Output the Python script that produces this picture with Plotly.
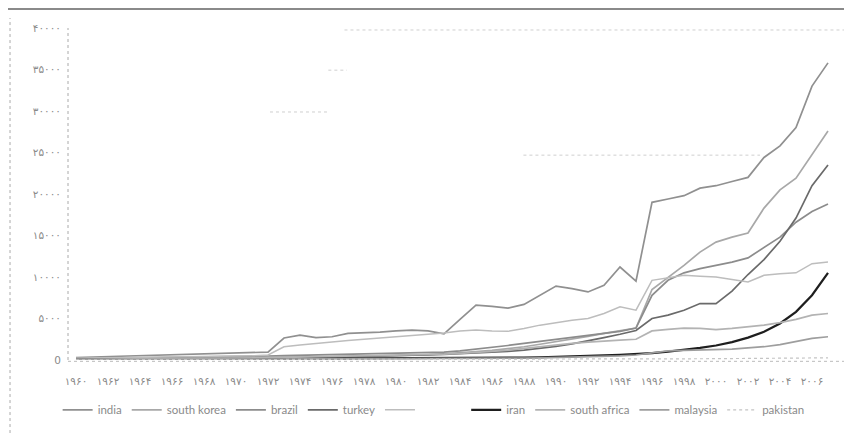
import plotly.graph_objects as go

years = list(range(1960, 2008))

india = [300, 350, 400, 450, 500, 550, 600, 650, 700, 750, 800, 850, 950, 2650, 3000, 2700,
         2800, 3200, 3250, 3350, 3500, 3600, 3500, 3150, 4900, 6600, 6450, 6250, 6700, 7800,
         8900, 8600, 8200, 9000, 11200, 9500, 19000, 19400, 19800, 20700, 21000, 21500, 22000,
         24400, 25800, 28000, 33000, 35800]
south_korea = [30, 35, 40, 50, 60, 70, 80, 100, 120, 140, 160, 180, 200, 230, 260, 290,
               320, 360, 400, 450, 500, 560, 650, 750, 850, 1000, 1150, 1350, 1600, 1900,
               2200, 2500, 2850, 3200, 3500, 3850, 8500, 9900, 11400, 13000, 14200, 14800, 15300,
               18300, 20500, 21900, 24800, 27600]
brazil = [150, 170, 190, 210, 230, 250, 270, 300, 330, 360, 400, 440, 480, 520, 560, 600,
          640, 680, 720, 760, 800, 830, 860, 950, 1100, 1300, 1500, 1750, 2000, 2250,
          2500, 2750, 3000, 3250, 3450, 3850, 7800, 9600, 10500, 11000, 11400, 11800, 12300,
          13500, 14800, 16600, 17900, 18800]
turkey = [80, 90, 100, 110, 120, 130, 140, 150, 170, 190, 210, 230, 250, 280, 310, 340,
          370, 400, 430, 470, 510, 560, 620, 680, 750, 830, 920, 1050, 1200, 1400,
          1650, 1950, 2300, 2700, 3100, 3550, 5000, 5400, 6000, 6800, 6800, 8300, 10300,
          12100, 14300, 17100, 21000, 23500]
unnamed = [200, 220, 250, 270, 300, 320, 350, 380, 400, 430, 460, 500, 600, 1600, 1800, 2000,
           2200, 2350, 2500, 2650, 2800, 3000, 3100, 3250, 3500, 3600, 3500, 3450, 3800, 4200,
           4500, 4800, 5000, 5600, 6400, 6000, 9600, 9900, 10200, 10100, 10000, 9700, 9400,
           10200, 10400, 10500, 11600, 11800]
iran = [50, 55, 60, 65, 70, 80, 90, 100, 110, 120, 130, 140, 150, 170, 190, 210,
        230, 220, 200, 180, 170, 180, 190, 200, 220, 240, 260, 280, 300, 330,
        370, 420, 480, 550, 630, 720, 830, 1000, 1200, 1450, 1750, 2150, 2700,
        3400, 4400, 5800, 7800, 10500]
south_africa = [80, 90, 100, 110, 120, 130, 140, 160, 180, 200, 220, 250, 280, 310, 340, 370,
                400, 430, 460, 500, 540, 580, 620, 700, 800, 900, 1050, 1200, 1400, 1650,
                1850, 2000, 2150, 2300, 2400, 2500, 3500, 3700, 3850, 3800, 3650, 3800, 4000,
                4200, 4500, 4900, 5400, 5600]
malaysia = [20, 25, 30, 35, 40, 45, 50, 55, 60, 65, 70, 75, 80, 90, 100, 110,
            120, 130, 140, 150, 160, 170, 180, 190, 200, 210, 220, 230, 240, 260,
            290, 330, 380, 430, 500, 600, 850, 1100, 1150, 1200, 1250, 1300, 1450,
            1600, 1850, 2200, 2600, 2800]
pakistan = [20, 22, 24, 26, 28, 30, 32, 34, 36, 38, 40, 42, 44, 46, 48, 50,
            52, 54, 56, 58, 60, 62, 64, 66, 68, 70, 72, 74, 76, 80,
            85, 90, 95, 100, 105, 110, 120, 130, 140, 150, 160, 170, 180,
            190, 200, 220, 240, 260]

x_tick_years = list(range(1960, 2008, 2))
x_tick_labels = ["۱۹۶۰", "۱۹۶۲", "۱۹۶۴", "۱۹۶۶", "۱۹۶۸", "۱۹۷۰", "۱۹۷۲", "۱۹۷۴",
                 "۱۹۷۶", "۱۹۷۸", "۱۹۸۰", "۱۹۸۲", "۱۹۸۴", "۱۹۸۶", "۱۹۸۸", "۱۹۹۰",
                 "۱۹۹۲", "۱۹۹۴", "۱۹۹۶", "۱۹۹۸", "۲۰۰۰", "۲۰۰۲", "۲۰۰۴", "۲۰۰۶"]
y_tick_values = [0, 5000, 10000, 15000, 20000, 25000, 30000, 35000, 40000]
y_tick_labels = ["0", "۵۰۰۰", "۱۰۰۰۰", "۱۵۰۰۰", "۲۰۰۰۰", "۲۵۰۰۰", "۳۰۰۰۰", "۳۵۰۰۰", "۴۰۰۰۰"]

series = [
    ("india", india, "#909090", 1.7, "solid"),
    ("south korea", south_korea, "#a8a8a8", 1.7, "solid"),
    ("brazil", brazil, "#8c8c8c", 1.7, "solid"),
    ("turkey", turkey, "#6a6a6a", 1.7, "solid"),
    ("\u00a0" * 14, unnamed, "#bdbdbd", 1.5, "solid"),
    ("iran", iran, "#1e1e1e", 2.2, "solid"),
    ("south africa", south_africa, "#b3b3b3", 1.7, "solid"),
    ("malaysia", malaysia, "#9e9e9e", 1.7, "solid"),
    ("pakistan", pakistan, "#c4c4c4", 1.2, "dot"),
]

fig = go.Figure()
for name, vals, color, w, dash in series:
    fig.add_trace(go.Scatter(x=years, y=vals, name=name, mode="lines",
                             line=dict(color=color, width=w, dash=dash)))

frag = dict(color="#cfcfcf", width=1, dash="dot")
shapes = [
    dict(type="line", xref="paper", yref="paper", x0=0, x1=0, y0=0, y1=1,
         line=dict(color="#aaaaaa", width=1, dash="dot")),
    dict(type="line", xref="paper", yref="paper", x0=0, x1=1.02, y0=-0.004, y1=-0.004,
         line=dict(color="#bbbbbb", width=1, dash="dot")),
    dict(type="line", xref="paper", yref="paper", x0=-0.0755, x1=-0.0755, y0=-0.22, y1=1.03,
         line=dict(color="#aaaaaa", width=1, dash="dot")),
    dict(type="rect", xref="paper", yref="paper", x0=-0.09, x1=1.03, y0=1.054, y1=1.07,
         line=dict(width=0), fillcolor="#8a8a8a"),
    dict(type="line", xref="paper", yref="paper", x0=0.36, x1=1.02, y0=0.994, y1=0.994, line=frag),
    dict(type="line", xref="paper", yref="paper", x0=0.339, x1=0.363, y0=0.873, y1=0.873, line=frag),
    dict(type="line", xref="paper", yref="paper", x0=0.263, x1=0.341, y0=0.747, y1=0.747, line=frag),
    dict(type="line", xref="paper", yref="paper", x0=0.593, x1=0.901, y0=0.617, y1=0.617, line=frag),
]

# The page adds an 8 px body margin, so the figure is sized 844x425 and the
# margins are set so the plot area lands where the reference has it.
fig.update_layout(
    width=844, height=425,
    margin=dict(l=60, r=16, t=20, b=73, autoexpand=False),
    paper_bgcolor="white", plot_bgcolor="white",
    showlegend=True,
    legend=dict(orientation="h", x=-0.0135, y=-0.15, xanchor="left", yanchor="middle",
                font=dict(family="Lato, Liberation Sans, sans-serif", size=11.5, color="#8a8a8a"),
                itemwidth=30, tracegroupgap=0, bgcolor="rgba(0,0,0,0)"),
    xaxis=dict(range=[1959.5, 2007.5], tickmode="array", tickvals=x_tick_years,
               ticktext=x_tick_labels, showgrid=False, zeroline=False, showline=False,
               tickangle=0, ticklabelstandoff=13,
               tickfont=dict(family="DejaVu Sans, sans-serif", size=10.5, color="#8a8a8a")),
    yaxis=dict(range=[0, 40000], tickmode="array", tickvals=y_tick_values,
               ticktext=y_tick_labels, showgrid=False, zeroline=False, showline=False,
               ticklabelstandoff=6,
               tickfont=dict(family="DejaVu Sans, sans-serif", size=10.5, color="#8a8a8a")),
    shapes=shapes,
)

fig.write_html("out.html")
